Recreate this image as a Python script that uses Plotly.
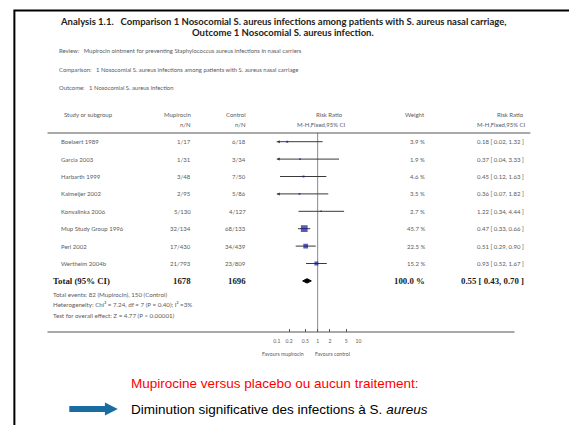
import plotly.graph_objects as go

W, H = 569, 425

# ---- data -------------------------------------------------------------
studies = ["Boelaert 1989", "Garcia 2003", "Harbarth 1999", "Kalmeijer 2002",
           "Konvalinka 2006", "Mup Study Group 1996", "Perl 2002", "Wertheim 2004b"]
mup_events = [1, 1, 3, 2, 5, 32, 17, 21]
mup_total = [17, 31, 48, 95, 130, 134, 430, 793]
ctl_events = [6, 3, 7, 5, 4, 68, 34, 23]
ctl_total = [18, 34, 50, 86, 127, 133, 439, 809]
weights = [3.9, 1.9, 4.6, 3.5, 2.7, 45.7, 22.5, 15.2]
rr = [0.18, 0.37, 0.45, 0.36, 1.22, 0.47, 0.51, 0.93]
rr_low = [0.02, 0.04, 0.12, 0.07, 0.34, 0.33, 0.29, 0.52]
rr_high = [1.32, 3.33, 1.63, 1.82, 4.44, 0.66, 0.90, 1.67]
total_rr, total_low, total_high = 0.55, 0.43, 0.70
total_weight = 100.0
axis_ticks = [0.1, 0.2, 0.5, 1, 2, 5, 10]
axis_tick_labels = ["0.1", "0.2", "0.5", "1", "2", "5", "10"]

# ---- layout helpers ---------------------------------------------------
ROW0, ROWH = 141.7, 17.4          # pixel centre of first study row, row pitch
Y_TOP = -ROW0 / ROWH
Y_BOT = (H - ROW0) / ROWH
rows = list(range(len(studies)))
total_row = len(studies)


def px(x):
    return x / W


def py(y):
    return 1 - y / H


def prow(y):
    return (y - ROW0) / ROWH


GRAY = "#5a5a5a"
DARK = "#1a1a1a"
SANS = "Lato, 'Open Sans', sans-serif"
SERIF = "'Liberation Serif', 'DejaVu Serif', serif"
ARIAL = "'Liberation Sans', Arial, sans-serif"
SMALL = 6.0

ann = []


def txt(x, y, s, size=SMALL, color=GRAY, family=SANS, xanchor="left", row=False):
    if xanchor == "left":
        x -= 2
    elif xanchor == "right":
        x += 2
    ann.append(dict(x=px(x), y=(y if row else py(y)), xref="paper",
                    yref=("y" if row else "paper"), text=s, showarrow=False,
                    xanchor=xanchor, yanchor="middle",
                    font=dict(size=size, color=color, family=family)))


fig = go.Figure()

# reference line at RR = 1
fig.add_trace(go.Scatter(x=[1, 1], y=[prow(133), prow(332)], mode="lines",
                         line=dict(color="#8a8a8a", width=1), hoverinfo="skip",
                         showlegend=False))

# confidence intervals
ci_x, ci_y = [], []
for r, lo, hi in zip(rows, rr_low, rr_high):
    ci_x += [lo, hi, None]
    ci_y += [r, r, None]
fig.add_trace(go.Scatter(x=ci_x, y=ci_y, mode="lines",
                         line=dict(color="#3a3a3a", width=1), showlegend=False))

# arrows for intervals running past the left end of the scale
off_rows = [r for r, lo in zip(rows, rr_low) if lo < axis_ticks[0]]
fig.add_trace(go.Scatter(x=[axis_ticks[0]] * len(off_rows), y=off_rows, mode="markers",
                         marker=dict(symbol="arrow-left", size=3, color="#3a3a3a",
                                     line=dict(width=0)),
                         cliponaxis=False, showlegend=False))

# point estimates, marker area proportional to weight
sizes = [max(1.6, 10 * (w / 100) ** 0.5) for w in weights]
fig.add_trace(go.Scatter(x=rr, y=rows, mode="markers",
                         marker=dict(symbol="square", size=sizes, color="#16169a",
                                     line=dict(width=0)), showlegend=False))

# pooled estimate diamond
dh = 2.2 / ROWH
fig.add_trace(go.Scatter(x=[total_low, total_rr, total_high, total_rr, total_low],
                         y=[total_row, total_row - dh, total_row, total_row + dh, total_row],
                         mode="lines", fill="toself", fillcolor="black",
                         line=dict(color="black", width=1), showlegend=False))

# ---- text --------------------------------------------------------------
txt(283, 21, "<b>Analysis 1.1.   Comparison 1 Nosocomial S. aureus infections among patients with S. aureus nasal carriage,</b>",
    size=9.5, color="#222222", xanchor="center")
txt(283, 33, "<b>Outcome 1 Nosocomial S. aureus infection.</b>", size=9.5, color="#222222",
    xanchor="center")
txt(57, 50, "Review:   Mupirocin ointment for preventing Staphylococcus aureus infections in nasal carriers",
    size=5.9)
txt(57, 69, "Comparison:   1 Nosocomial S. aureus infections among patients with S. aureus nasal carriage",
    size=5.9)
txt(57, 88, "Outcome:   1 Nosocomial S. aureus infection", size=5.9)

# column headers
txt(62, 115, "Study or subgroup")
txt(190, 115, "Mupirocin", xanchor="right")
txt(190, 124.5, "n/N", xanchor="right")
txt(246, 115, "Control", xanchor="right")
txt(246, 124.5, "n/N", xanchor="right")
txt(330, 115, "Risk Ratio", xanchor="center")
txt(322, 124.5, "M-H,Fixed,95% CI", xanchor="center")
txt(427, 115, "Weight", xanchor="right")
txt(527, 115, "Risk Ratio", xanchor="right")
txt(529, 124.5, "M-H,Fixed,95% CI", xanchor="right")

for r, name, me, mt, ce, ct, w, e, lo, hi in zip(rows, studies, mup_events, mup_total,
                                                  ctl_events, ctl_total, weights,
                                                  rr, rr_low, rr_high):
    txt(59, r, name, row=True)
    txt(190, r, f"{me}/{mt}", xanchor="right", row=True)
    txt(246, r, f"{ce}/{ct}", xanchor="right", row=True)
    txt(427, r, f"{w:.1f} %", xanchor="right", row=True)
    txt(527, r, f"{e:.2f} [ {lo:.2f}, {hi:.2f} ]", xanchor="right", row=True)

txt(51, total_row, "<b>Total (95% CI)</b>", size=8.8, color=DARK, family=SERIF, row=True)
txt(190, total_row, f"<b>{sum(mup_total)}</b>", size=8.8, color=DARK, family=SERIF,
    xanchor="right", row=True)
txt(246, total_row, f"<b>{sum(ctl_total)}</b>", size=8.8, color=DARK, family=SERIF,
    xanchor="right", row=True)
txt(427, total_row, f"<b>{total_weight:.1f} %</b>", size=8.8, color=DARK, family=SERIF,
    xanchor="right", row=True)
txt(527, total_row, f"<b>{total_rr:.2f} [ {total_low:.2f}, {total_high:.2f} ]</b>", size=8.8,
    color=DARK, family=SERIF, xanchor="right", row=True)

txt(51, 294, f"Total events: {sum(mup_events)} (Mupirocin), {sum(ctl_events)} (Control)", size=6.2)
txt(51, 304.5, "Heterogeneity: Chi² = 7.24, df = 7 (P = 0.40); I² =3%", size=6.2)
txt(51, 315, "Test for overall effect: Z = 4.77 (P < 0.00001)", size=6.2)

txt(304, 354, "Favours mupirocin", size=5.2, xanchor="right")
txt(315, 354, "Favours control", size=5.2)

# slide commentary
txt(129, 383, "Mupirocine versus placebo ou aucun traitement:", size=13.5, color="#ff0000",
    family=ARIAL)
txt(129, 409, "Diminution significative des infections à S. <i>aureus</i>", size=13.5,
    color="#000000", family=ARIAL)

# ---- shapes ------------------------------------------------------------
shapes = [
    dict(type="line", xref="paper", yref="paper", x0=px(45), x1=px(533), y0=py(133),
         y1=py(133), line=dict(color="#555555", width=1)),
    dict(type="line", xref="paper", yref="paper", x0=px(45), x1=px(517), y0=py(332),
         y1=py(332), line=dict(color="#555555", width=1)),
    dict(type="rect", xref="paper", yref="paper", x0=px(11.5), x1=px(590), y0=py(10.5),
         y1=py(450), line=dict(color="black", width=2)),
]
arrow_pts = [(67, 406), (103, 406), (103, 402.5), (116, 409), (103, 415.5), (103, 412), (67, 412)]
path = "M " + " L ".join(f"{px(x):.5f},{py(y):.5f}" for x, y in arrow_pts) + " Z"
shapes.append(dict(type="path", xref="paper", yref="paper", path=path,
                   fillcolor="#1a6ca0", line=dict(width=0)))

fig.update_layout(
    width=W, height=H, margin=dict(l=0, r=0, t=0, b=0),
    paper_bgcolor="white", plot_bgcolor="rgba(0,0,0,0)",
    showlegend=False, annotations=ann, shapes=shapes,
    xaxis=dict(type="log", range=[-1, 1], domain=[px(276.7), px(359.3)],
               anchor="free", position=py(332), tickvals=axis_ticks,
               ticktext=axis_tick_labels, ticks="inside", ticklen=3, tickwidth=1,
               tickcolor="#555555", showline=False, showgrid=False, zeroline=False,
               tickfont=dict(size=5, color=GRAY, family=SANS), ticklabelstandoff=5),
    yaxis=dict(range=[Y_BOT, Y_TOP], domain=[0, 1], visible=False, fixedrange=True),
)

fig.write_html("out.html")
